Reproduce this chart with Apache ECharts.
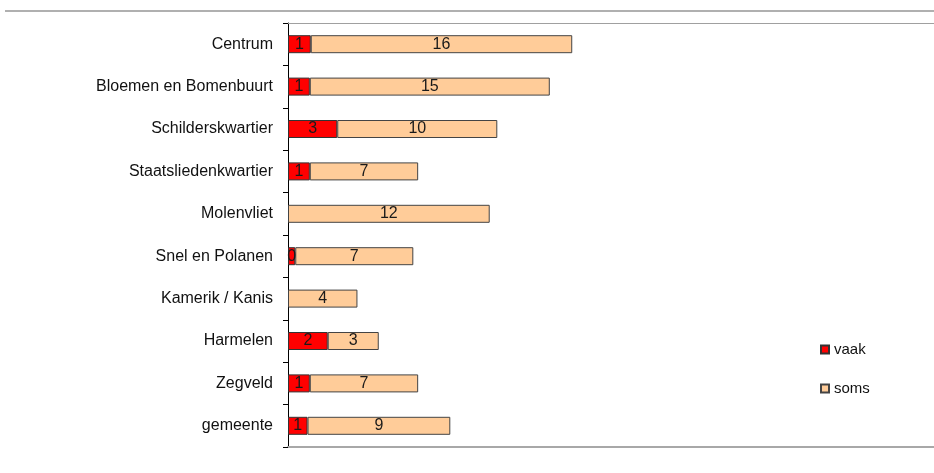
<!DOCTYPE html>
<html>
<head>
<meta charset="utf-8">
<script src="https://cdn.jsdelivr.net/npm/echarts@6/dist/echarts.min.js"></script>
<style>html,body{margin:0;padding:0;background:#fff}#c{width:934px;height:473px}</style>
</head>
<body>
<div id="c"></div>
<script>
var categories = ['Centrum','Bloemen en Bomenbuurt','Schilderskwartier','Staatsliedenkwartier','Molenvliet','Snel en Polanen','Kamerik / Kanis','Harmelen','Zegveld','gemeente'];
var vaak = [1.41, 1.35, 3.05, 1.35, null, 0.45, null, 2.46, 1.35, 1.21];
var soms = [16.19, 14.86, 9.91, 6.71, 12.49, 7.31, 4.30, 3.16, 6.71, 8.84];
var xMax = 40;

var chart = echarts.init(document.getElementById('c'), null, {renderer:'canvas'});
var font = 'Liberation Sans, Arial, sans-serif';
var lbl = {
  show: true, position: 'inside', color: '#1a1a1a', fontSize: 16, fontFamily: font,
  overflow: 'none', width: null,
  formatter: function(p){ return p.value == null ? '' : String(Math.round(p.value)); }
};
chart.setOption({
  animation: false,
  textStyle: {fontFamily: font},
  graphic: [{type:'line', shape:{x1:5, y1:11, x2:934, y2:11}, style:{stroke:'#b0b0b0', lineWidth:2}}],
  legend: {
    orient: 'vertical', left: 815, top: 337, itemWidth: 8, itemHeight: 8, itemGap: 24, itemTextGap: 4,
    icon: 'rect',
    textStyle: {fontSize: 15, color: '#111', fontFamily: font},
    data: ['vaak','soms']
  },
  grid: {left: 288, right: 0, top: 23, bottom: 26},
  xAxis: [
    {type:'value', min:0, max:xMax, position:'bottom',
     axisLine:{show:true, lineStyle:{color:'#a8a8a8', width:2}},
     axisTick:{show:false}, axisLabel:{show:false}, splitLine:{show:false}},
    {type:'value', min:0, max:xMax, position:'top',
     axisLine:{show:true, lineStyle:{color:'#a0a0a0', width:1}},
     axisTick:{show:false}, axisLabel:{show:false}, splitLine:{show:false}}
  ],
  yAxis: {
    type:'category', inverse:true, data: categories,
    axisLine:{show:true, lineStyle:{color:'#000', width:1}},
    axisTick:{show:true, inside:false, length:5, lineStyle:{color:'#000'}},
    axisLabel:{margin:15, fontSize:16, color:'#111', fontFamily:font}
  },
  series: [
    {name:'vaak', type:'bar', stack:'t', data: vaak, barWidth: 18,
     itemStyle:{color:'#ff0000', borderColor:'#333', borderWidth:1}, label: lbl},
    {name:'soms', type:'bar', stack:'t', data: soms, barWidth: 18,
     itemStyle:{color:'#ffcc99', borderColor:'#444', borderWidth:1}, label: lbl}
  ]
});
</script>
</body>
</html>
